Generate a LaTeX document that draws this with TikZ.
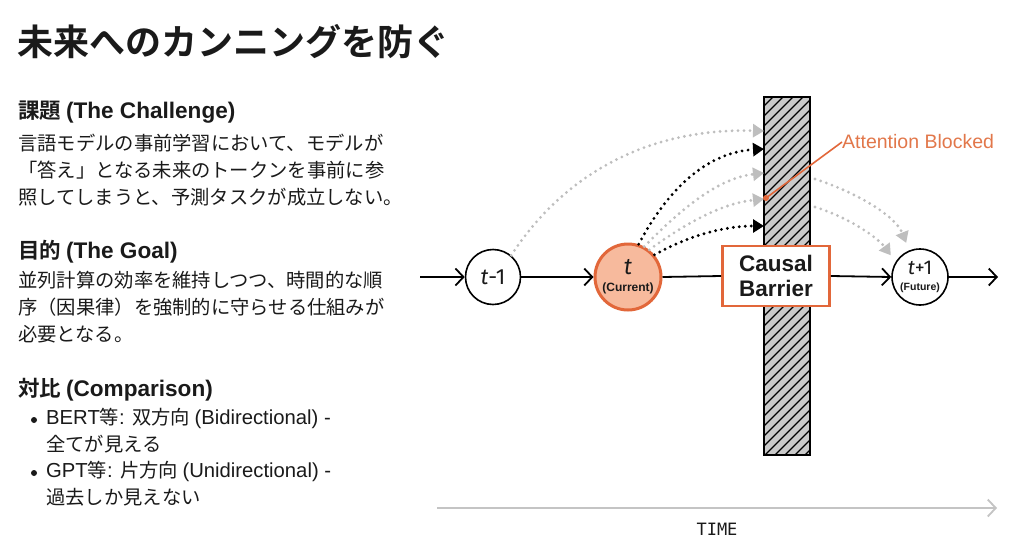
\documentclass[tikz,border=0pt]{standalone}
\usepackage{fontspec}
\setmainfont{Noto Sans CJK JP}[BoldFont={Noto Sans CJK JP Bold}]
\newfontfamily\hvfont{Liberation Sans}
\newfontfamily\ltfont{Liberation Sans}[Scale=1.05]
\newfontfamily\tfont{Fira Sans}
\newfontfamily\monofont{DejaVu Sans Mono}
\newcommand{\lt}[1]{{\ltfont #1}}
\usetikzlibrary{arrows.meta}
\definecolor{org}{HTML}{E2673A}
\definecolor{orgtxt}{HTML}{E2774A}
\definecolor{orgfill}{HTML}{F7BA9D}
\definecolor{txt}{HTML}{1A1A1A}
\definecolor{lgray}{HTML}{BEBEBE}
\definecolor{barfill}{HTML}{CACACA}
\definecolor{axisgray}{HTML}{C4C4C4}
\tikzset{
  title/.style={anchor=west, inner sep=0pt, font=\fontsize{36}{40}\selectfont\bfseries, text=txt},
  head/.style={anchor=west, inner sep=0pt, font=\fontsize{21.5}{24}\selectfont\bfseries, text=txt},
  body/.style={anchor=west, inner sep=0pt, font=\fontsize{19.3}{22}\selectfont, text=txt},
  bullet/.style={circle, fill=txt, minimum size=6pt, inner sep=0pt},
  tok/.style={circle, draw=black, line width=1.6pt, fill=white, minimum size=55pt, inner sep=0pt, align=center, text=txt},
  mainln/.style={line width=1.8pt, draw=black},
  barb/.style={-{Straight Barb[length=8pt,width=17pt,line width=1.8pt]}},
  grayarc/.style={draw=lgray, line width=3.1pt, line cap=round, dash pattern=on 0pt off 6pt, -{Triangle[length=11pt,width=13pt,fill=lgray]}},
  blackarc/.style={draw=black, line width=3.2pt, line cap=round, dash pattern=on 0pt off 6pt, -{Triangle[length=11pt,width=13pt,fill=black]}},
}
\begin{document}
\begin{tikzpicture}[x=1pt,y=-1pt]
\useasboundingbox (0,0) rectangle (1024,546);
\fill[white] (0,0) rectangle (1024,546);

% ---- left column text ----
\node[title] (ttl) at (17,42) {未来へのカンニングを防ぐ};

\node[head] (h1) at (18,112) {課題 \lt{(The Challenge)}};
\node[body] (p1a) at (18,143) {言語モデルの事前学習において、モデルが};
\node[body] (p1b) at (18,170) {「答え」となる未来のトークンを事前に参};
\node[body] (p1c) at (18,197) {照してしまうと、予測タスクが成立しない。};

\node[head] (h2) at (18,252) {目的 \lt{(The Goal)}};
\node[body] (p2a) at (18,280) {並列計算の効率を維持しつつ、時間的な順};
\node[body] (p2b) at (18,307) {序（因果律）を強制的に守らせる仕組みが};
\node[body] (p2c) at (18,334) {必要となる。};

\node[head] (h3) at (18,390) {対比 \lt{(Comparison)}};
\node[bullet] (bl1) at (34,420) {};
\node[body] (c1a) at (46,418) {\lt{BERT}等\lt{: }双方向 \lt{(Bidirectional) -}};
\node[body] (c1b) at (46,444) {全てが見える};
\node[bullet] (bl2) at (34,473) {};
\node[body] (c2a) at (46,471) {\lt{GPT}等\lt{: }片方向 \lt{(Unidirectional) -}};
\node[body] (c2b) at (46,497) {過去しか見えない};

% ---- barrier ----
\begin{scope}
\clip (764,97) rectangle (810,455);
\fill[barfill] (764,97) rectangle (810,455);
\foreach \k in {0,...,42}{
  \draw[line width=1.3pt] (740,{100+10*\k}) -- ++(80,-80);
}
\end{scope}
\draw[line width=2pt] (764,97) rectangle (810,455);

% ---- tokens ----
\node[tok] (tm1) at (493,277) {\fontsize{22}{24}\selectfont\tfont{\itshape t}-1};
\node[tok, draw=org, fill=orgfill, line width=3pt, minimum size=66pt] (tc) at (628,277) {};
\node[inner sep=0pt, text=txt] (tcl) at (628,267) {\fontsize{23}{24}\selectfont\tfont\itshape t};
\node[inner sep=0pt, text=txt] (tcs) at (628,288) {\fontsize{12}{13}\selectfont\hvfont\bfseries (Current)};
\node[tok, minimum size=56pt] (tp1) at (920,277) {};
\node[inner sep=0pt, text=txt] (tpl) at (920,268) {\fontsize{20}{22}\selectfont\tfont{\itshape t}+1};
\node[inner sep=0pt, text=txt] (tps) at (920,288) {\fontsize{10.5}{12}\selectfont\hvfont\bfseries (Future)};

\node[draw=org, line width=2.6pt, fill=white, minimum width=107pt, minimum height=60pt, inner sep=0pt, align=center, text=txt,
      font=\fontsize{22.5}{25}\selectfont\hvfont\bfseries] (cb) at (776,276) {Causal\\Barrier};

% ---- main line ----
\coordinate (st) at (420,277);
\coordinate (en) at (998,277);
\draw[mainln, barb] (st) -- (tm1.west);
\draw[mainln, barb] (tm1.east) -- (tc.west);
\draw[mainln] (tc.east) -- (cb.west);
\draw[mainln, barb] (cb.east) -- (tp1.west);
\draw[mainln, barb] (tp1.east) -- (en);

% ---- attention arcs ----
\coordinate (b1) at (764,131);
\coordinate (b2) at (764,149);
\coordinate (b3) at (764,173);
\coordinate (b4) at (764,199);
\coordinate (b5) at (764,226);
\coordinate (r1) at (815,179);
\coordinate (r2) at (815,207);
\draw[grayarc] (tm1.50) .. controls (570,165) and (660,128) .. (b1);
\draw[blackarc] (tc.72) .. controls (670,185) and (710,152) .. (b2);
\draw[grayarc] (tc.62) .. controls (685,205) and (720,178) .. (b3);
\draw[grayarc] (tc.52) .. controls (690,220) and (725,203) .. (b4);
\draw[blackarc] (tc.40) .. controls (690,235) and (725,226) .. (b5);
\draw[grayarc, shorten >=8pt] (r1) .. controls (855,192) and (895,215) .. (tp1.112);
\draw[grayarc, shorten >=8pt] (r2) .. controls (850,218) and (878,238) .. (tp1.148);

% ---- attention blocked label ----
\node[anchor=west, inner sep=0pt, text=orgtxt, font=\fontsize{19.5}{21}\selectfont\hvfont] (ab) at (842,142) {Attention Blocked};
\coordinate (abp) at (766,198);
\draw[org, line width=1.6pt] (ab.west) -- (abp);
\fill[org] (abp) circle (3pt);

% ---- time axis ----
\coordinate (ta) at (437,508);
\coordinate (tb) at (997,508);
\draw[axisgray, line width=2pt, -{Straight Barb[length=8pt,width=17pt,line width=1.8pt]}] (ta) -- (tb);
\node[inner sep=0pt, text=txt, font=\fontsize{17}{19}\selectfont\monofont] (tm) at (717,529) {TIME};
\end{tikzpicture}
\end{document}
